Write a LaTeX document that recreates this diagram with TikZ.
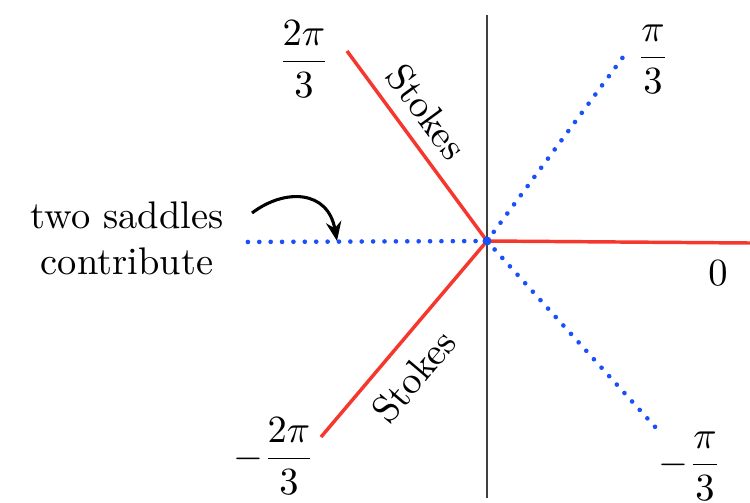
\documentclass[tikz,border=0pt]{standalone}
\usepackage{amsmath}
\usetikzlibrary{arrows.meta}
\definecolor{stokesred}{RGB}{245,55,45}
\definecolor{dotblue}{RGB}{25,80,250}
\begin{document}
\begin{tikzpicture}[x=0.26pt,y=-0.26pt,
  redline/.style={draw=stokesred,line width=0.9pt},
  blueline/.style={draw=dotblue,line width=1.2pt,line cap=round,dash pattern=on 0.01pt off 2.95pt},
  axisline/.style={draw=black!75,line width=0.4pt},
  lbl/.style={inner sep=0pt}]
\useasboundingbox (0,0) rectangle (750,503);
% coordinates
\coordinate (O) at (487,241);
\coordinate (axT) at (487,15);
\coordinate (axB) at (487,498);
\coordinate (r1) at (347,51);
\coordinate (r2) at (321,437);
\coordinate (r0) at (750,243);
\coordinate (b1) at (629,49);
\coordinate (b2) at (657,429);
\coordinate (bl) at (240,242);
% axis
\draw[axisline] (axT) -- (axB);
% lines
\draw[redline] (O) -- (r1);
\draw[redline] (O) -- (r2);
\draw[redline] (O) -- (r0);
\draw[blueline] (O) -- (b1);
\draw[blueline] (O) -- (b2);
\draw[blueline] (O) -- (bl);
\fill[dotblue] (O) circle[radius=4.5];
% labels
\node[lbl] (l23) at (304,59) {$\dfrac{2\pi}{3}$};
\node[lbl] (l13) at (653,59) {$\dfrac{\pi}{3}$};
\node[lbl] (lm23) at (274,456) {$-\dfrac{2\pi}{3}$};
\node[lbl] (lm13) at (690,466) {$-\dfrac{\pi}{3}$};
\node[lbl] (l0) at (718,273) {$0$};
\node[lbl,rotate=-53.8] (s1) at (427,112) {Stokes};
\node[lbl,rotate=49.7] (s2) at (414,376) {Stokes};
\node[lbl,align=center] (two) at (127,238) {two saddles\\contribute};
\coordinate (arrS) at (252,213);
\coordinate (tip) at (337,241);
\draw[line width=0.8pt,-{Stealth[length=5pt,width=4pt]}] (arrS) .. controls (285,188) and (328,190) .. (tip);
\end{tikzpicture}
\end{document}
